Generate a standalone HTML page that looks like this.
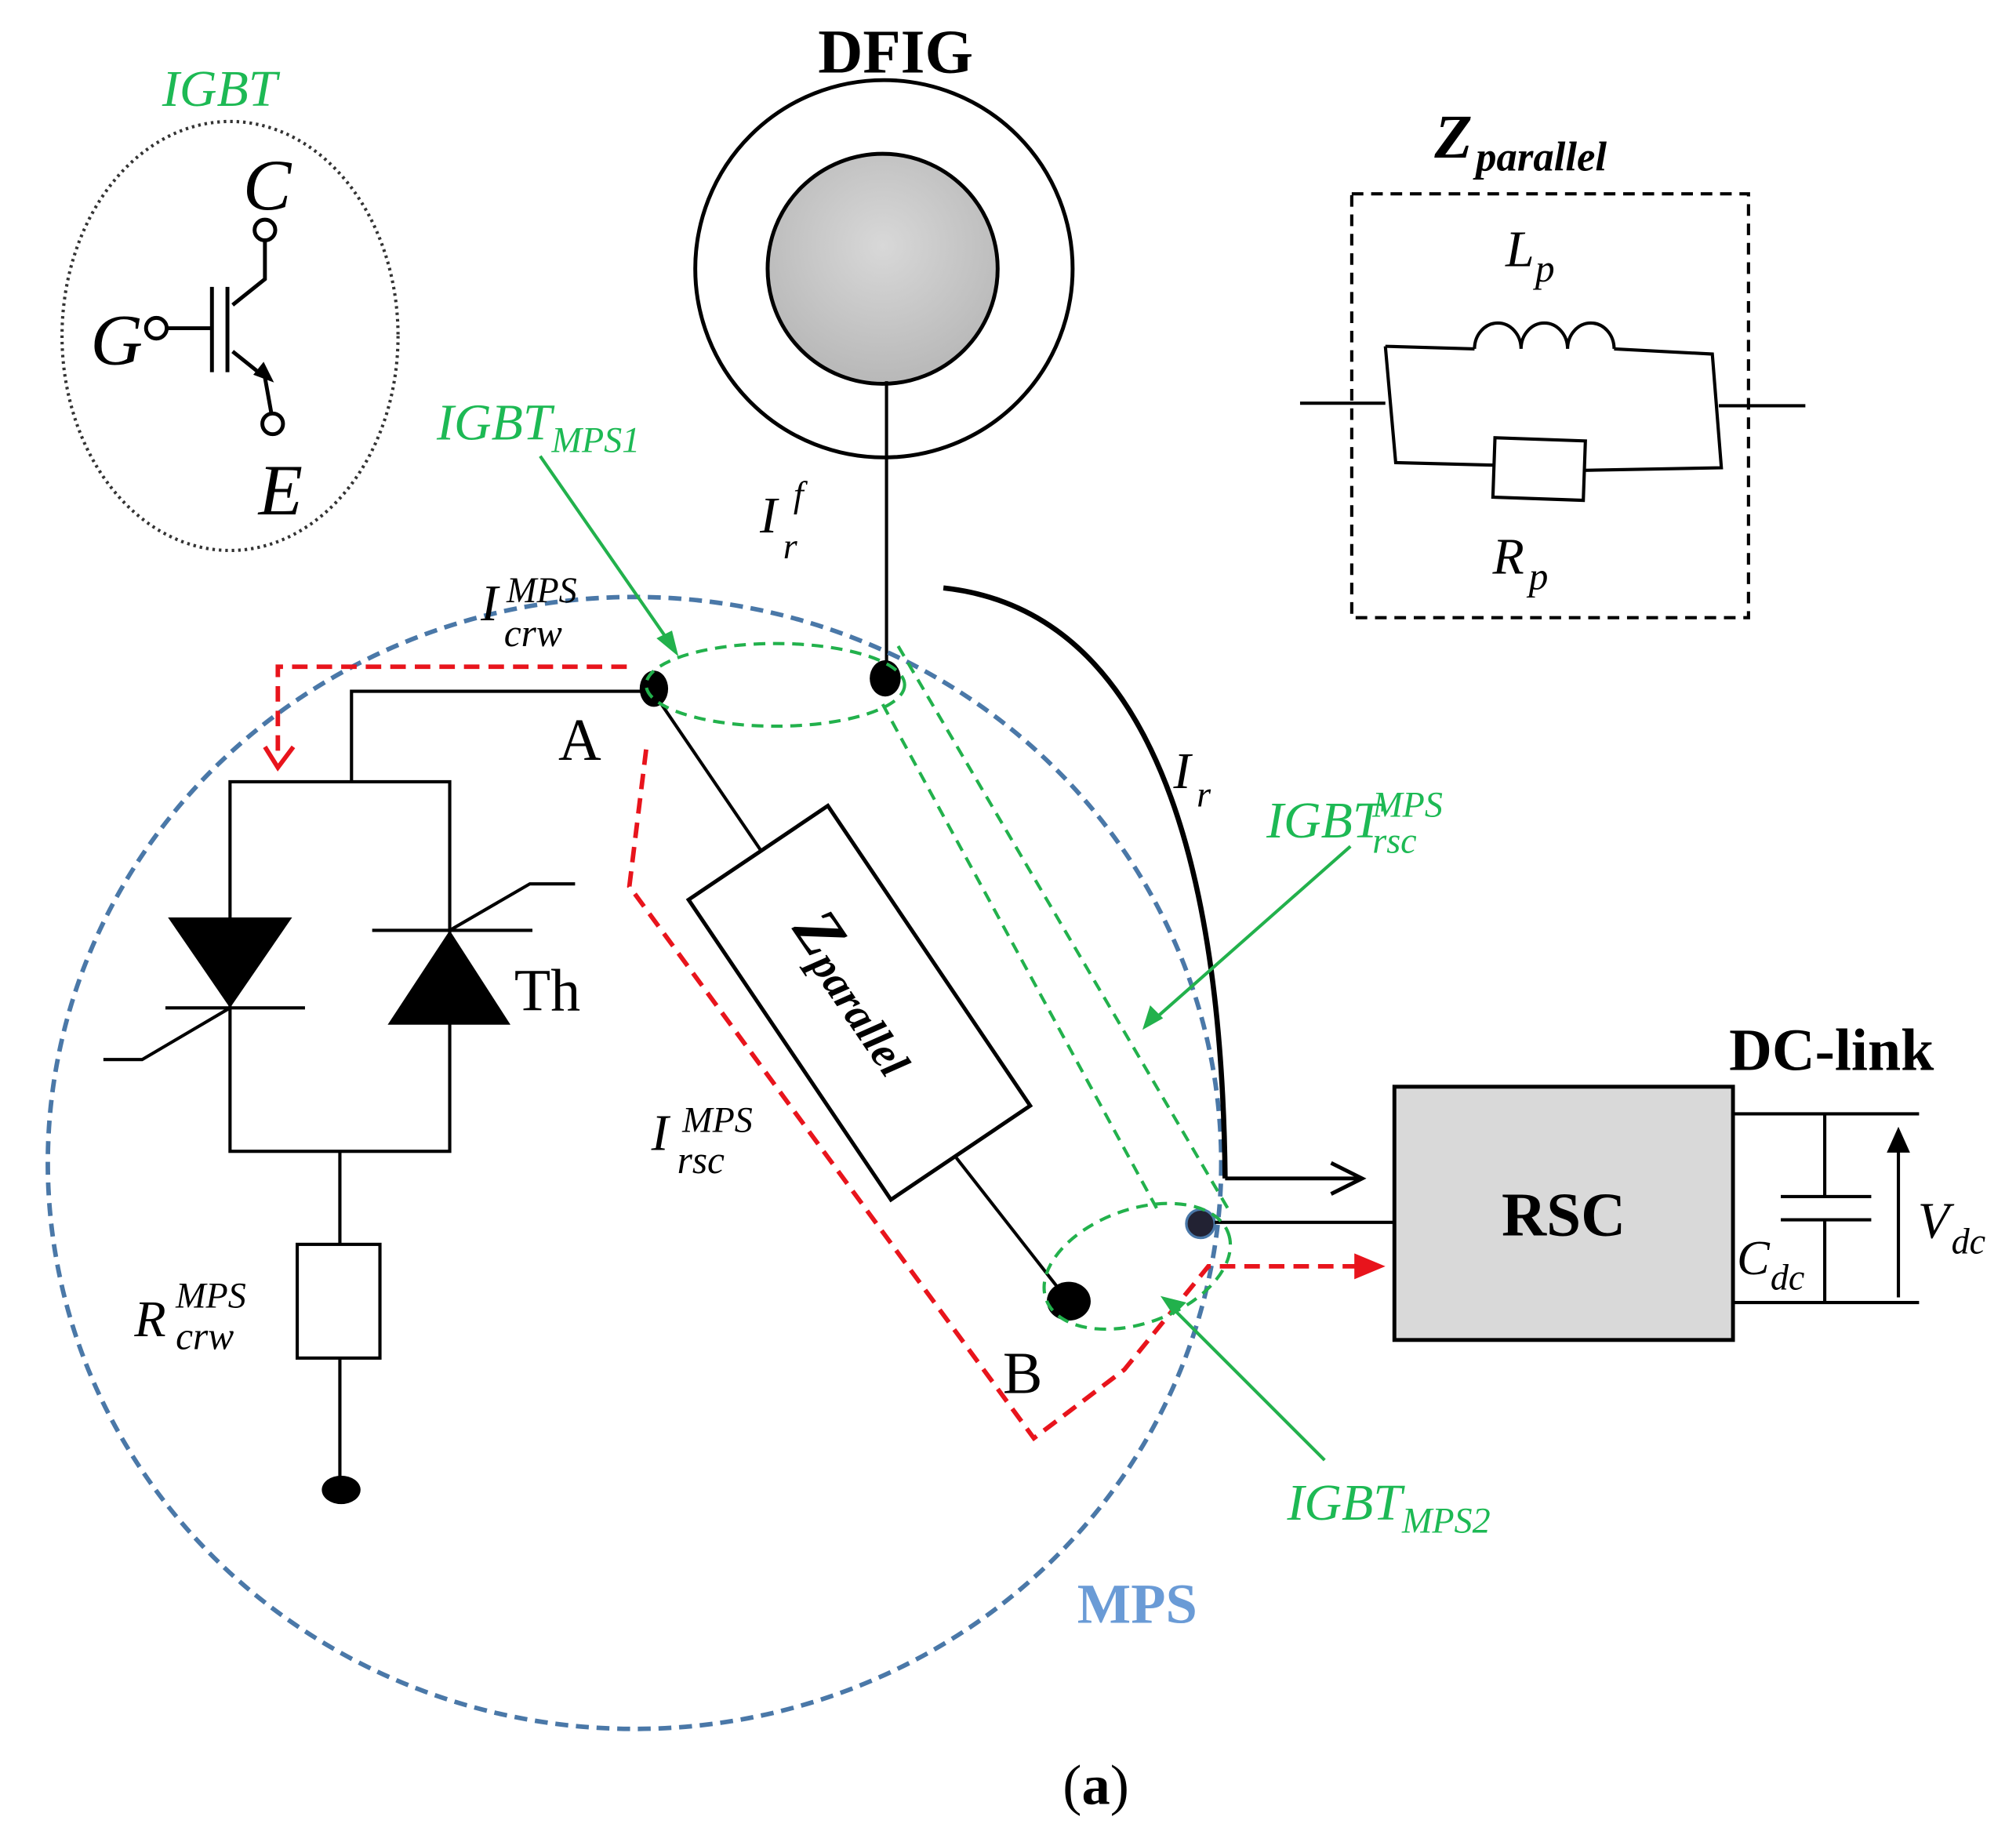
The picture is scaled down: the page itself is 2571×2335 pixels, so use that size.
<!DOCTYPE html>
<html><head><meta charset="utf-8"><style>html,body{margin:0;padding:0;background:#fff}svg{display:block}</style></head>
<body>
<svg width="2571" height="2335" viewBox="0 0 1560 1417" preserveAspectRatio="none" xmlns="http://www.w3.org/2000/svg" font-family="Liberation Serif, serif">
<defs>
<radialGradient id="g" cx="0.5" cy="0.4" r="0.6"><stop offset="0" stop-color="#d8d8d8"/><stop offset="1" stop-color="#b8b8b8"/></radialGradient>
</defs>
<text x="693" y="56" font-size="48" font-weight="bold" text-anchor="middle">DFIG</text>
<circle cx="684" cy="208" r="146" fill="none" stroke="#000" stroke-width="3"/>
<circle cx="683" cy="208" r="89" fill="url(#g)" stroke="#000" stroke-width="3"/>
<line x1="686" y1="295" x2="686" y2="525" stroke="#000" stroke-width="2.5"/>
<text x="588" y="412" font-size="40" font-style="italic">I</text><text x="606" y="432" font-size="28" font-style="italic">r</text><text x="614" y="392" font-size="28" font-style="italic">f</text>

<text x="170" y="82" font-size="40" font-style="italic" fill="#1db954" text-anchor="middle">IGBT</text>
<ellipse cx="178" cy="260" rx="130" ry="166" fill="none" stroke="#333" stroke-width="2.5" stroke-dasharray="2,3"/>
<text x="188" y="162" font-size="56" font-style="italic">C</text>
<text x="70" y="282" font-size="56" font-style="italic">G</text>
<text x="200" y="398" font-size="56" font-style="italic">E</text>
<g stroke="#000" stroke-width="3" fill="none">
<circle cx="205" cy="178" r="8" fill="#fff"/>
<polyline points="205,186 205,216 180,236"/>
<circle cx="121" cy="254" r="8" fill="#fff"/>
<line x1="129" y1="254" x2="164" y2="254"/>
<line x1="164" y1="222" x2="164" y2="288"/>
<line x1="176" y1="222" x2="176" y2="288"/>
<polyline points="180,272 205,292 210,320"/>
<circle cx="211" cy="328" r="8" fill="#fff"/>
</g>
<polygon points="212,296 196,290 204,280" fill="#000"/>

<text x="1110" y="122" font-size="48" font-weight="bold" font-style="italic">Z</text>
<text x="1142" y="132" font-size="32" font-weight="bold" font-style="italic">parallel</text>
<rect x="1046" y="150" width="307" height="328" fill="none" stroke="#000" stroke-width="2.5" stroke-dasharray="9,6"/>
<text x="1165" y="206" font-size="40" font-style="italic">L</text><text x="1188" y="218" font-size="30" font-style="italic">p</text>
<text x="1155" y="444" font-size="40" font-style="italic">R</text><text x="1183" y="456" font-size="30" font-style="italic">p</text>
<g stroke="#000" stroke-width="2.5" fill="none">
<line x1="1006" y1="312" x2="1072" y2="312"/>
<line x1="1330" y1="314" x2="1397" y2="314"/>
<polyline points="1072,268 1080,358 1156,360"/>
<polyline points="1072,268 1141,270"/>
<path d="M1141,270 a18,20 0 0 1 36,0 a18,20 0 0 1 36,0 a18,20 0 0 1 36,0"/>
<polyline points="1249,270 1325,274 1332,362 1226,364"/>
<rect x="1156" y="340" width="70" height="46" transform="rotate(2 1191 363)"/>
</g>

<ellipse cx="491" cy="900" rx="454" ry="438" fill="none" stroke="#4a78a8" stroke-width="3.5" stroke-dasharray="10,6"/>
<text x="880" y="1256" font-size="44" font-weight="bold" fill="#6a9bd6" text-anchor="middle">MPS</text>

<g stroke="#000" stroke-width="2.5" fill="none">
<polyline points="505,535 272,535 272,605"/>
<rect x="178" y="605" width="170" height="286"/>
<line x1="128" y1="780" x2="236" y2="780"/>
<polyline points="80,820 110,820 178,780"/>
<line x1="288" y1="720" x2="412" y2="720"/>
<polyline points="348,720 410,684 445,684"/>
<line x1="263" y1="891" x2="263" y2="963"/>
<rect x="230" y="963" width="64" height="88"/>
<line x1="263" y1="1051" x2="263" y2="1150"/>
</g>
<polygon points="130,710 226,710 178,780" fill="#000"/>
<polygon points="300,793 395,793 348,720" fill="#000"/>
<ellipse cx="264" cy="1153" rx="15" ry="11" fill="#000"/>
<text x="398" y="782" font-size="46">Th</text>
<text x="104" y="1034" font-size="40" font-style="italic">R</text><text x="136" y="1012" font-size="28" font-style="italic">MPS</text><text x="136" y="1044" font-size="30" font-style="italic">crw</text>

<line x1="505" y1="535" x2="590" y2="660" stroke="#000" stroke-width="2.5"/>
<line x1="740" y1="896" x2="826" y2="1006" stroke="#000" stroke-width="2.5"/>
<g transform="translate(665 776) rotate(56)">
<rect x="-140" y="-65" width="280" height="130" fill="#fff" stroke="#000" stroke-width="3"/>
<text x="-8" y="0" font-size="50" font-weight="bold" font-style="italic" text-anchor="middle" dominant-baseline="middle">Z<tspan font-size="34" dy="8">parallel</tspan></text>
</g>
<ellipse cx="506" cy="533" rx="11" ry="14" fill="#000"/>
<ellipse cx="685" cy="525" rx="12" ry="14" fill="#000"/>
<ellipse cx="827" cy="1007" rx="17" ry="15" fill="#000"/>
<circle cx="929" cy="947" r="11" fill="#223" stroke="#4a78a8" stroke-width="2"/>
<text x="432" y="588" font-size="46">A</text>
<text x="776" y="1078" font-size="46">B</text>

<path d="M730,455 C870,470 945,620 948,912" fill="none" stroke="#000" stroke-width="4"/>
<line x1="948" y1="912" x2="1052" y2="912" stroke="#000" stroke-width="3"/>
<polyline points="1030,900 1054,912 1030,924" fill="none" stroke="#000" stroke-width="3"/>
<text x="908" y="610" font-size="40" font-style="italic">I</text><text x="926" y="624" font-size="28" font-style="italic">r</text>
<line x1="940" y1="946" x2="1079" y2="946" stroke="#000" stroke-width="2.5"/>

<rect x="1079" y="841" width="262" height="196" fill="#d9d9d9" stroke="#000" stroke-width="3"/>
<text x="1210" y="956" font-size="48" font-weight="bold" text-anchor="middle">RSC</text>
<text x="1338" y="828" font-size="46" font-weight="bold">DC-link</text>
<g stroke="#000" stroke-width="2.5" fill="none">
<line x1="1341" y1="862" x2="1485" y2="862"/>
<line x1="1341" y1="1008" x2="1485" y2="1008"/>
<line x1="1412" y1="862" x2="1412" y2="926"/>
<line x1="1412" y1="944" x2="1412" y2="1008"/>
<line x1="1378" y1="926" x2="1448" y2="926"/>
<line x1="1378" y1="944" x2="1448" y2="944"/>
<line x1="1469" y1="1004" x2="1469" y2="886"/>
</g>
<polygon points="1469,872 1460,892 1478,892" fill="#000"/>
<text x="1344" y="986" font-size="38" font-style="italic">C</text><text x="1370" y="998" font-size="28" font-style="italic">dc</text>
<text x="1484" y="958" font-size="40" font-style="italic">V</text><text x="1510" y="970" font-size="28" font-style="italic">dc</text>

<g stroke="#e8141c" stroke-width="3.5" fill="none" stroke-dasharray="12,7">
<polyline points="485,516 215,516 215,588"/>
<polyline points="500,580 487,686 800,1113 870,1060 935,980 1050,980"/>
</g>
<polyline points="205,578 215,594 227,578" fill="none" stroke="#e8141c" stroke-width="3.5"/>
<polygon points="1072,980 1048,970 1048,990" fill="#e8141c"/>
<text x="372" y="480" font-size="40" font-style="italic">I</text><text x="392" y="466" font-size="28" font-style="italic">MPS</text><text x="390" y="500" font-size="30" font-style="italic">crw</text>
<text x="504" y="890" font-size="40" font-style="italic">I</text><text x="528" y="876" font-size="28" font-style="italic">MPS</text><text x="524" y="908" font-size="30" font-style="italic">rsc</text>

<g stroke="#22b14c" stroke-width="2.5" fill="none" stroke-dasharray="9,6">
<ellipse cx="600" cy="530" rx="100" ry="32"/>
<ellipse cx="880" cy="980" rx="75" ry="44" transform="rotate(-20 880 980)"/>
<line x1="695" y1="500" x2="950" y2="935"/>
<line x1="683" y1="545" x2="895" y2="935"/>
</g>
<g stroke="#22b14c" stroke-width="2.5" fill="none">
<line x1="418" y1="353" x2="520" y2="500"/>
<line x1="1045" y1="655" x2="892" y2="790"/>
<line x1="1025" y1="1130" x2="905" y2="1010"/>
</g>
<polygon points="525,508 508,494 520,488" fill="#22b14c"/>
<polygon points="884,797 890,778 900,788" fill="#22b14c"/>
<polygon points="898,1003 918,1008 908,1018" fill="#22b14c"/>
<g fill="#1db954" font-style="italic">
<text x="338" y="340" font-size="40">IGBT<tspan font-size="28" dy="10">MPS1</tspan></text>
<text x="980" y="648" font-size="40">IGBT</text><text x="1062" y="632" font-size="28">MPS</text><text x="1062" y="660" font-size="28">rsc</text>
<text x="996" y="1176" font-size="40">IGBT<tspan font-size="28" dy="10">MPS2</tspan></text>
</g>
<text x="848" y="1396" font-size="44" text-anchor="middle">(<tspan font-weight="bold">a</tspan>)</text>
</svg>
</body></html>
